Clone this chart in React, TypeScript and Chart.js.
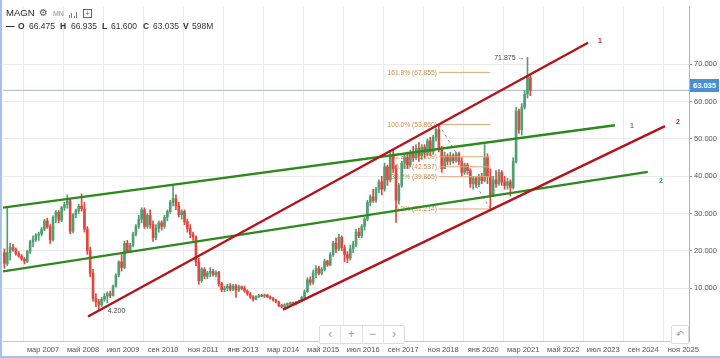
import React, { useEffect, useRef } from "react";
import { Chart, registerables } from "chart.js";

Chart.register(...registerables);

// ---------- data ----------
const FIRST_YEAR = 2006; // first monthly candle = Jan 2006

const opens = [
  19.5, 16.6, 19.5, 21.0, 20.3, 19.2, 18.6, 17.8, 17.2, 19.8, 22.4, 23.0,
  24.2, 24.5, 25.8, 28.0, 26.4, 23.0, 29.0, 30.3, 28.2, 31.6, 32.4, 33.4,
  25.2, 29.7, 30.8, 32.0, 31.2, 25.8, 20.0, 14.0, 7.2, 6.3, 5.5, 7.0,
  7.8, 8.5, 8.0, 10.5, 13.5, 17.0, 15.5, 22.0, 20.0, 21.5, 24.5, 26.5,
  28.5, 31.0, 26.5, 29.5, 27.0, 23.5, 26.0, 27.5, 26.5, 29.0, 30.5, 33.0,
  34.0, 32.0, 29.7, 30.5, 27.8, 26.0, 24.5, 23.7, 17.0, 12.0, 15.0, 13.2,
  14.0, 14.5, 13.6, 14.2, 11.2, 9.5, 10.0, 10.5, 9.6, 10.6, 9.5, 10.3,
  9.9, 9.2, 8.4, 7.6, 7.0, 7.7, 8.0, 7.8, 8.1, 7.6, 7.2, 6.8,
  6.3, 5.3, 5.0, 5.5, 5.8, 6.0, 5.7, 6.2, 6.6, 7.5, 9.0, 12.2,
  11.5, 14.0, 15.3, 14.0, 15.0, 17.2, 16.2, 19.0, 22.0, 20.5, 23.6, 20.8,
  19.0, 18.0, 20.5, 21.8, 25.0, 24.0, 26.5, 28.5, 33.0, 34.5, 33.5, 36.5,
  38.5, 36.5, 42.5, 39.0, 45.5, 42.0, 33.5, 37.5, 43.5, 45.0, 43.0, 46.5,
  45.0, 47.5, 45.5, 47.8, 46.2, 49.5, 46.5, 50.5, 52.5, 47.5, 42.0, 45.5,
  44.0, 45.5, 44.2, 46.0, 44.0, 41.0, 43.0, 41.5, 38.0, 39.5, 37.8, 40.0,
  38.8, 45.0, 40.0, 35.0, 39.0, 38.0, 41.0, 38.5, 37.5, 38.5, 37.0, 44.0,
  57.5, 52.5, 58.5, 62.0, 66.475,
];
const highs = [
  20.5, 31.5, 22.0, 21.8, 20.8, 19.8, 19.0, 18.2, 20.2, 22.8, 24.0, 24.6,
  25.0, 26.2, 28.4, 28.8, 27.0, 29.4, 30.8, 30.8, 31.9, 33.0, 35.0, 33.8,
  30.0, 31.2, 32.5, 35.3, 33.0, 26.5, 21.0, 15.0, 8.5, 7.0, 7.5, 8.5,
  9.0, 9.2, 10.8, 13.8, 17.3, 19.0, 22.5, 22.8, 22.0, 25.0, 27.0, 29.5,
  31.5, 31.5, 30.0, 31.0, 28.0, 27.0, 28.0, 28.0, 29.5, 31.0, 33.5, 37.5,
  35.0, 33.0, 31.0, 31.0, 28.5, 27.0, 25.0, 24.0, 18.0, 15.5, 15.5, 14.5,
  15.5, 15.0, 14.6, 14.5, 11.5, 10.5, 11.0, 11.2, 11.0, 11.0, 10.8, 10.6,
  10.5, 9.5, 8.8, 8.0, 7.9, 8.3, 8.3, 8.4, 8.3, 7.9, 7.5, 7.0,
  6.5, 5.6, 5.8, 6.0, 6.2, 6.2, 6.4, 6.8, 7.8, 9.5, 12.8, 13.0,
  14.8, 16.0, 15.8, 15.5, 17.8, 17.5, 19.5, 22.5, 23.5, 24.5, 24.0, 21.5,
  19.8, 21.5, 22.5, 25.8, 26.0, 27.0, 29.0, 33.5, 35.0, 36.5, 37.0, 39.0,
  40.0, 43.5, 43.0, 46.5, 47.0, 43.0, 38.0, 44.0, 46.0, 46.5, 47.0, 48.0,
  48.5, 49.0, 48.5, 48.5, 50.0, 50.5, 51.0, 52.8, 53.86, 48.0, 46.5, 46.0,
  46.5, 46.0, 46.5, 46.5, 45.0, 43.5, 43.5, 42.0, 40.0, 40.0, 40.5, 40.8,
  48.5, 46.0, 42.0, 40.0, 41.5, 41.8, 41.5, 40.0, 39.5, 39.0, 45.0, 58.5,
  58.0, 59.5, 63.0, 71.875, 66.935,
];
const lows = [
  15.3, 16.0, 17.5, 19.8, 18.8, 18.2, 17.4, 16.5, 16.8, 19.2, 21.0, 22.5,
  22.8, 24.0, 25.3, 26.0, 22.0, 22.6, 27.5, 27.5, 27.8, 30.8, 31.4, 24.5,
  24.8, 28.8, 30.0, 30.6, 25.0, 19.0, 13.0, 6.5, 5.0, 4.2, 5.0, 6.5,
  6.0, 7.4, 7.8, 10.2, 13.0, 14.5, 15.2, 19.5, 19.5, 21.0, 24.0, 26.0,
  27.5, 26.0, 26.0, 26.0, 22.5, 23.0, 25.0, 25.5, 26.0, 28.0, 30.0, 32.0,
  31.0, 29.0, 28.5, 27.0, 25.0, 23.5, 22.8, 16.0, 11.0, 11.5, 12.5, 12.5,
  13.0, 13.2, 13.0, 10.5, 9.0, 9.0, 9.3, 9.2, 9.3, 7.5, 9.0, 9.5,
  8.8, 8.0, 7.2, 6.5, 6.8, 7.4, 7.6, 7.5, 7.4, 7.0, 6.5, 6.0,
  5.0, 4.6, 4.8, 5.2, 5.5, 5.4, 5.5, 6.0, 6.3, 7.2, 8.8, 10.8,
  11.0, 12.8, 13.5, 13.5, 14.5, 15.8, 16.0, 18.5, 19.5, 20.0, 20.0, 17.0,
  16.8, 17.5, 19.5, 21.0, 23.5, 23.5, 25.5, 28.0, 32.0, 33.0, 33.0, 35.5,
  35.0, 36.0, 37.5, 38.5, 41.0, 27.6, 32.5, 37.0, 42.0, 42.0, 42.5, 44.0,
  44.5, 44.0, 44.5, 45.0, 45.5, 45.5, 46.0, 49.5, 46.5, 41.0, 42.5, 43.0,
  43.0, 43.5, 43.8, 43.0, 40.0, 40.5, 40.5, 37.0, 36.5, 37.0, 37.2, 38.0,
  38.5, 38.0, 31.214, 34.5, 37.0, 37.5, 37.5, 36.5, 36.5, 34.7, 36.5, 43.5,
  51.5, 51.0, 58.0, 61.0, 61.6,
];
const closes = [
  16.6, 19.5, 21.0, 20.3, 19.2, 18.6, 17.8, 17.2, 19.8, 22.4, 23.0, 24.2,
  24.5, 25.8, 28.0, 26.4, 23.0, 29.0, 30.3, 28.2, 31.6, 32.4, 33.4, 25.2,
  29.7, 30.8, 32.0, 31.2, 25.8, 20.0, 14.0, 7.2, 6.3, 5.5, 7.0, 7.8,
  8.5, 8.0, 10.5, 13.5, 17.0, 15.5, 22.0, 20.0, 21.5, 24.5, 26.5, 28.5,
  31.0, 26.5, 29.5, 27.0, 23.5, 26.0, 27.5, 26.5, 29.0, 30.5, 33.0, 34.0,
  32.0, 29.7, 30.5, 27.8, 26.0, 24.5, 23.7, 17.0, 12.0, 15.0, 13.2, 14.0,
  14.5, 13.6, 14.2, 11.2, 9.5, 10.0, 10.5, 9.6, 10.6, 9.5, 10.3, 9.9,
  9.2, 8.4, 7.6, 7.0, 7.7, 8.0, 7.8, 8.1, 7.6, 7.2, 6.8, 6.3,
  5.3, 5.0, 5.5, 5.8, 6.0, 5.7, 6.2, 6.6, 7.5, 9.0, 12.2, 11.5,
  14.0, 15.3, 14.0, 15.0, 17.2, 16.2, 19.0, 22.0, 20.5, 23.6, 20.8, 19.0,
  18.0, 20.5, 21.8, 25.0, 24.0, 26.5, 28.5, 33.0, 34.5, 33.5, 36.5, 38.5,
  36.5, 42.5, 39.0, 45.5, 42.0, 33.5, 37.5, 43.5, 45.0, 43.0, 46.5, 45.0,
  47.5, 45.5, 47.8, 46.2, 49.5, 46.5, 50.5, 52.5, 47.5, 42.0, 45.5, 44.0,
  45.5, 44.2, 46.0, 44.0, 41.0, 43.0, 41.5, 38.0, 39.5, 37.8, 40.0, 38.8,
  45.0, 40.0, 35.0, 39.0, 38.0, 41.0, 38.5, 37.5, 38.5, 37.0, 44.0, 57.5,
  52.5, 58.5, 62.0, 66.5, 63.035,
];

const monthAbbr = ["янв", "фев", "мар", "апр", "май", "июн", "июл", "авг", "сен", "окт", "ноя", "дек"];
const xTickLabels = [
  "мар 2007", "май 2008", "июл 2009", "сен 2010", "ноя 2011", "янв 2013",
  "мар 2014", "май 2015", "июл 2016", "сен 2017", "ноя 2018", "янв 2020",
  "мар 2021", "май 2022", "июл 2023", "сен 2024", "ноя 2025",
];
const yTickValues = [10, 20, 30, 40, 50, 60, 70];

// trend lines: [year, price] endpoints
const redLine1 = [[2008.478, 2.37], [2023.056, 75.79]];
const redLine2 = [[2014.163, 4.21], [2025.30, 53.42]];
const greenLine1 = [[2006.0, 31.58], [2023.84, 53.68]];
const greenLine2 = [[2006.0, 14.47], [2024.80, 41.18]];

// fibonacci retracement
const fibLevels = [0, 0.382, 0.5, 0.618, 1, 1.618];
const fibLowValue = 31.214;
const fibHighValue = 53.86;
const fibHighIndex = 152;
const fibLowIndex = 170;

const lastPrice = 63.035;
const maxHighIndex = 183;
const minLowIndex = 33;

// ---------- styles ----------
const FONT = '"Liberation Sans", Arial, sans-serif';
const GREEN_C = "#4f9f72";
const RED_C = "#e0473f";
const TREND_RED = "#b3141c";
const TREND_GREEN = "#2b8a1b";
const FIB_LINE = "#e3a777";
const FIB_TEXT = "#cf8a4f";

const candleTime = (i: number) => FIRST_YEAR + (i + 0.5) / 12;
const labelToValue = (s: string) => {
  const [m, y] = s.split(" ");
  return Number(y) + monthAbbr.indexOf(m) / 12;
};
const xTickValues = xTickLabels.map(labelToValue);

const lineData = (pts: number[][]) => pts.map(([x, y]) => ({ x, y }));

const textPlugin = {
  id: "textLabels",
  beforeDatasetsDraw(chart: any) {
    const { ctx } = chart;
    const x = chart.scales.x;
    const y = chart.scales.y;
    ctx.save();
    ctx.font = `6.7px ${FONT}`;
    ctx.fillStyle = FIB_TEXT;
    ctx.textAlign = "right";
    ctx.textBaseline = "middle";
    const xs = x.getPixelForValue(candleTime(fibHighIndex)) - 2;
    fibLevels.forEach((l) => {
      const v = fibLowValue + l * (fibHighValue - fibLowValue);
      ctx.fillText(`${(l * 100).toFixed(1)}% (${v.toFixed(3)})`, xs, y.getPixelForValue(v) + 0.5);
    });
    ctx.restore();
  },
  afterDatasetsDraw(chart: any) {
    const { ctx } = chart;
    const x = chart.scales.x;
    const y = chart.scales.y;
    ctx.save();
    ctx.textBaseline = "middle";
    const tl = [
      { pts: redLine1, txt: "1", c: "#c8202a", dx: 12, dy: -2 },
      { pts: greenLine1, txt: "1", c: "#3aa04c", dx: 17, dy: 1 },
      { pts: greenLine2, txt: "2", c: "#3aa04c", dx: 13, dy: 9 },
      { pts: redLine2, txt: "2", c: "#c8202a", dx: 13, dy: -4 },
    ];
    ctx.font = `bold 7px ${FONT}`;
    ctx.textAlign = "center";
    tl.forEach((t) => {
      const e = t.pts[1];
      ctx.fillStyle = t.c;
      ctx.fillText(t.txt, x.getPixelForValue(e[0]) + t.dx, y.getPixelForValue(e[1]) + t.dy);
    });
    ctx.font = `7px ${FONT}`;
    ctx.fillStyle = "#444";
    ctx.textAlign = "right";
    ctx.fillText(
      `${highs[maxHighIndex].toFixed(3)} →`,
      x.getPixelForValue(candleTime(maxHighIndex)) - 3,
      y.getPixelForValue(highs[maxHighIndex]) + 1
    );
    ctx.textAlign = "left";
    ctx.fillText(
      lows[minLowIndex].toFixed(3),
      x.getPixelForValue(candleTime(minLowIndex)) + 9,
      y.getPixelForValue(lows[minLowIndex]) + 1.5
    );
    ctx.restore();
  },
};

export default function App() {
  const ref = useRef<HTMLCanvasElement>(null);

  useEffect(() => {
    const canvas = ref.current;
    if (!canvas) return;
    const colors = closes.map((c, i) => (c >= opens[i] ? GREEN_C : RED_C));
    const wicks = closes.map((_, i) => ({ x: candleTime(i), y: [lows[i], highs[i]] }));
    const bodies = closes.map((c, i) => ({ x: candleTime(i), y: [opens[i], c] }));

    const trend = (pts: number[][], color: string) => ({
      type: "line",
      data: lineData(pts),
      borderColor: color,
      borderWidth: 2.4,
      pointRadius: 0,
      fill: false,
      tension: 0,
      order: 0,
    });

    const fibSets = fibLevels.map((l) => {
      const v = fibLowValue + l * (fibHighValue - fibLowValue);
      return {
        type: "line",
        data: [
          { x: candleTime(fibHighIndex), y: v },
          { x: candleTime(fibLowIndex), y: v },
        ],
        borderColor: FIB_LINE,
        borderWidth: 1,
        pointRadius: 0,
        fill: false,
        order: 1,
      };
    });

    const chart = new Chart(canvas, {
      type: "bar",
      data: {
        datasets: [
          trend(redLine1, TREND_RED),
          trend(redLine2, TREND_RED),
          trend(greenLine1, TREND_GREEN),
          trend(greenLine2, TREND_GREEN),
          ...fibSets,
          {
            type: "line",
            data: [
              { x: candleTime(fibHighIndex), y: fibHighValue },
              { x: candleTime(fibLowIndex), y: fibLowValue },
            ],
            borderColor: "#8a8a8a",
            borderWidth: 1,
            borderDash: [3, 3],
            pointRadius: 0,
            fill: false,
            order: 1,
          },
          {
            type: "bar",
            data: bodies,
            backgroundColor: colors,
            barThickness: 2,
            minBarLength: 1,
            grouped: false,
            borderWidth: 0,
            order: 2,
          },
          {
            type: "bar",
            data: wicks,
            backgroundColor: colors,
            barThickness: 1,
            grouped: false,
            borderWidth: 0,
            order: 3,
          },
          {
            type: "line",
            data: [
              { x: 2006, y: lastPrice },
              { x: 2026, y: lastPrice },
            ],
            borderColor: "#a9b6cb",
            borderWidth: 1,
            pointRadius: 0,
            fill: false,
            order: 4,
          },
        ],
      } as any,
      options: {
        responsive: false,
        animation: false,
        devicePixelRatio: 1,
        layout: { padding: { left: 3, top: 0, right: 0, bottom: 0 } },
        plugins: { legend: { display: false }, tooltip: { enabled: false } },
        scales: {
          x: {
            type: "linear",
            min: 2006,
            max: 2026,
            offset: false,
            bounds: "data",
            afterBuildTicks: (s: any) => {
              s.ticks = xTickValues.map((v) => ({ value: v }));
            },
            afterFit: (s: any) => {
              s.height = 17;
            },
            ticks: {
              callback: (_v: any, i: number) => xTickLabels[i],
              font: { size: 7.5, family: FONT },
              color: "#555",
              maxRotation: 0,
              autoSkip: false,
              padding: 4,
            },
            grid: { color: "#ebebeb", drawTicks: false },
            border: { color: "#c4c8d0" },
          },
          y: {
            type: "linear",
            position: "right",
            min: -4.21,
            max: 85.53,
            bounds: "data",
            afterBuildTicks: (s: any) => {
              s.ticks = yTickValues.map((v) => ({ value: v }));
            },
            afterFit: (s: any) => {
              s.width = 31;
            },
            ticks: {
              callback: (v: any) => Number(v).toFixed(3),
              font: { size: 7.5, family: FONT },
              color: "#555",
              padding: 2,
            },
            grid: { color: "#ebebeb", tickLength: 3, tickColor: "#9a9a9a" },
            border: { color: "#aab4c4" },
          },
        },
      } as any,
      plugins: [textPlugin],
    });
    return () => chart.destroy();
  }, []);

  const hdr = (left: number, top: number, text: string, extra: any = {}) => (
    <span
      style={{
        position: "absolute",
        left,
        top,
        fontSize: 8.5,
        lineHeight: "9px",
        color: "#333",
        whiteSpace: "nowrap",
        ...extra,
      }}
    >
      {text}
    </span>
  );

  return (
    <div
      style={{
        position: "absolute",
        left: 0,
        top: 0,
        width: 720,
        height: 358,
        overflow: "hidden",
        background: "#fff",
        fontFamily: FONT,
      }}
    >
      <canvas ref={ref} width={720} height={358} style={{ position: "absolute", left: 0, top: 0, width: 720, height: 358 }} />
      <div style={{ position: "absolute", left: 0, top: 0, width: 2, height: 358, background: "#a7c2e4" }} />
      <div style={{ position: "absolute", left: 0, top: 356, width: 720, height: 2, background: "#a7c2e4" }} />
      {hdr(6, 8, "MAGN", { fontSize: 9.5, lineHeight: "10px", color: "#222" })}
      {hdr(39, 7, "⚙", { fontSize: 10, lineHeight: "11px", color: "#555", fontFamily: '"DejaVu Sans", sans-serif' })}
      {hdr(53, 10, "MN", { fontSize: 7, lineHeight: "8px", color: "#8a8a8a" })}
      <div style={{ position: "absolute", left: 69, top: 11, width: 9, height: 7 }}>
        {[3, 5, 2, 6].map((h, i) => (
          <div key={i} style={{ position: "absolute", left: i * 2.3, bottom: 0, width: 1.2, height: h, background: "#777" }} />
        ))}
      </div>
      <div style={{ position: "absolute", left: 83, top: 9, width: 7, height: 7, border: "1px solid #666", fontSize: 7, lineHeight: "7px", textAlign: "center", color: "#555" }}>+</div>
      {hdr(6, 22, "—", { fontWeight: "bold", color: "#222" })}
      {hdr(18, 22, "O", { fontWeight: "bold" })}
      {hdr(29, 22, "66.475")}
      {hdr(60, 22, "H", { fontWeight: "bold" })}
      {hdr(71, 22, "66.935")}
      {hdr(102, 22, "L", { fontWeight: "bold" })}
      {hdr(111, 22, "61.600")}
      {hdr(143, 22, "C", { fontWeight: "bold" })}
      {hdr(153, 22, "63.035")}
      {hdr(183, 22, "V", { fontWeight: "bold" })}
      {hdr(192, 22, "598M")}
      <div
        style={{
          position: "absolute",
          left: 690,
          top: 79,
          width: 29,
          height: 13,
          background: "#4a8ed6",
          color: "#fff",
          fontSize: 7.5,
          fontWeight: "bold",
          lineHeight: "13px",
          textAlign: "center",
        }}
      >
        63.035
      </div>
      <div
        style={{
          position: "absolute",
          left: 319,
          top: 325,
          width: 84,
          height: 17,
          border: "1px solid #dcdcdc",
          borderRadius: 2,
          background: "#fff",
          display: "flex",
        }}
      >
        {["‹", "+", "−", "›"].map((s, i) => (
          <div
            key={i}
            style={{
              flex: 1,
              borderLeft: i ? "1px solid #e2e2e2" : "none",
              textAlign: "center",
              fontSize: 12,
              lineHeight: "16px",
              color: "#a0a0a0",
            }}
          >
            {s}
          </div>
        ))}
      </div>
      <div
        style={{
          position: "absolute",
          left: 671,
          top: 325,
          width: 16,
          height: 17,
          border: "1px solid #dcdcdc",
          borderRadius: 2,
          background: "#fff",
          textAlign: "center",
          fontSize: 10,
          lineHeight: "17px",
          color: "#a0a0a0",
          fontFamily: '"DejaVu Sans", sans-serif',
        }}
      >
        ↶
      </div>
    </div>
  );
}
